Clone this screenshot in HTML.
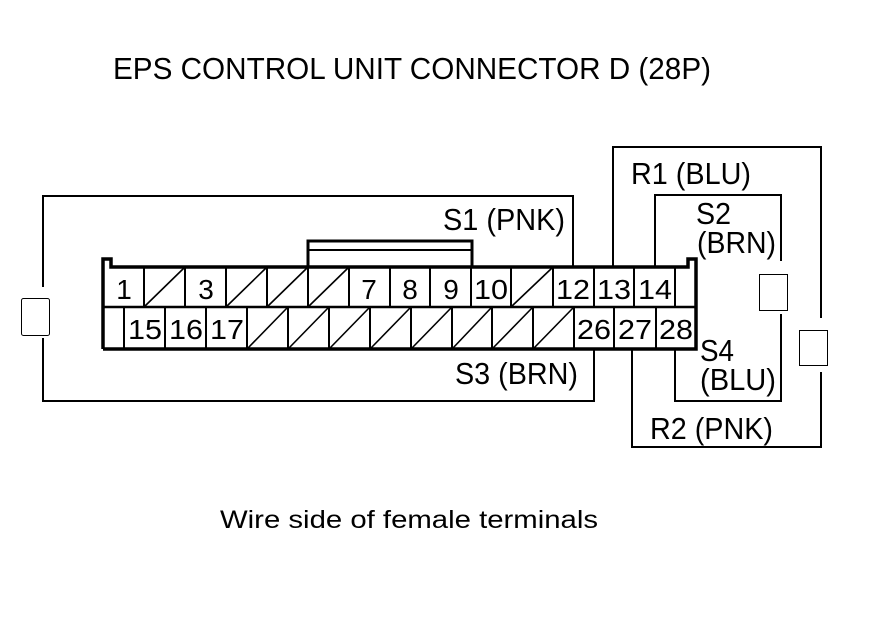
<!DOCTYPE html>
<html><head><meta charset="utf-8"><style>html,body{margin:0;padding:0;background:#fff}svg{display:block}</style></head>
<body>
<svg width="880" height="630" viewBox="0 0 880 630" xmlns="http://www.w3.org/2000/svg" font-family="Liberation Sans, Arial, sans-serif" fill="#000">
<rect width="880" height="630" fill="#fff"/>
<text x="113" y="79" font-size="31" textLength="598" lengthAdjust="spacingAndGlyphs">EPS CONTROL UNIT CONNECTOR D (28P)</text>
<text x="220" y="528" font-size="25" textLength="378" lengthAdjust="spacingAndGlyphs">Wire side of female terminals</text>

<g stroke="#000" stroke-width="2" fill="none">
  <polyline points="43,287 43,196 573,196 573,267"/>
  <polyline points="43,338 43,401 594,401 594,349"/>
  <polyline points="613,267 613,147 821,147 821,318"/>
  <polyline points="821,372 821,447 632,447 632,349"/>
  <polyline points="655,267 655,195 781,195 781,261"/>
  <polyline points="781,314 781,401 675,401 675,349"/>
</g>
<g stroke="#000" stroke-width="1" fill="#fff">
  <rect x="21.5" y="298.5" width="28" height="37" rx="2"/>
  <rect x="759.5" y="274.5" width="28" height="36"/>
  <rect x="799.5" y="330.5" width="28" height="35"/>
</g>

<g stroke="#000" fill="none">
  <polyline points="308,267 308,241 472,241 472,267" stroke-width="3"/>
  <line x1="308" y1="250" x2="472" y2="250" stroke-width="2"/>
</g>
<g stroke="#000" fill="none">
  <polyline points="103,349 103,259 111,259 111,267 688,267 688,259 696,259 696,349 103,349" stroke-width="3.5" stroke-linejoin="miter"/>
  <line x1="103" y1="307" x2="696" y2="307" stroke-width="2.5"/>
  <g stroke-width="2">
    <line x1="144" y1="267" x2="144" y2="307"/><line x1="185" y1="267" x2="185" y2="307"/>
    <line x1="226" y1="267" x2="226" y2="307"/><line x1="267" y1="267" x2="267" y2="307"/>
    <line x1="308" y1="267" x2="308" y2="307"/><line x1="349" y1="267" x2="349" y2="307"/>
    <line x1="390" y1="267" x2="390" y2="307"/><line x1="430" y1="267" x2="430" y2="307"/>
    <line x1="471" y1="267" x2="471" y2="307"/><line x1="511" y1="267" x2="511" y2="307"/>
    <line x1="553" y1="267" x2="553" y2="307"/><line x1="594" y1="267" x2="594" y2="307"/>
    <line x1="634" y1="267" x2="634" y2="307"/><line x1="675" y1="267" x2="675" y2="307"/>
    <line x1="124" y1="307" x2="124" y2="349"/><line x1="165" y1="307" x2="165" y2="349"/>
    <line x1="206" y1="307" x2="206" y2="349"/><line x1="247" y1="307" x2="247" y2="349"/>
    <line x1="288" y1="307" x2="288" y2="349"/><line x1="329" y1="307" x2="329" y2="349"/>
    <line x1="370" y1="307" x2="370" y2="349"/><line x1="411" y1="307" x2="411" y2="349"/>
    <line x1="452" y1="307" x2="452" y2="349"/><line x1="492" y1="307" x2="492" y2="349"/>
    <line x1="533" y1="307" x2="533" y2="349"/><line x1="574" y1="307" x2="574" y2="349"/>
    <line x1="614" y1="307" x2="614" y2="349"/><line x1="656" y1="307" x2="656" y2="349"/>
  </g>
  <g stroke-width="1.6">
    <line x1="145" y1="306" x2="184" y2="268"/>
    <line x1="227" y1="306" x2="266" y2="268"/>
    <line x1="268" y1="306" x2="307" y2="268"/>
    <line x1="309" y1="306" x2="348" y2="268"/>
    <line x1="512" y1="306" x2="552" y2="268"/>
    <line x1="248" y1="348" x2="287" y2="308"/>
    <line x1="289" y1="348" x2="328" y2="308"/>
    <line x1="330" y1="348" x2="369" y2="308"/>
    <line x1="371" y1="348" x2="410" y2="308"/>
    <line x1="412" y1="348" x2="451" y2="308"/>
    <line x1="453" y1="348" x2="491" y2="308"/>
    <line x1="493" y1="348" x2="532" y2="308"/>
    <line x1="534" y1="348" x2="573" y2="308"/>
  </g>
</g>
<g font-size="28" text-anchor="middle">
  <text x="124" y="299">1</text><text x="206" y="299">3</text>
  <text x="369" y="299">7</text><text x="410" y="299">8</text>
  <text x="451" y="299">9</text><text x="491" y="299" textLength="34" lengthAdjust="spacingAndGlyphs">10</text>
  <text x="573" y="299" textLength="34" lengthAdjust="spacingAndGlyphs">12</text><text x="614" y="299" textLength="34" lengthAdjust="spacingAndGlyphs">13</text><text x="655" y="299" textLength="34" lengthAdjust="spacingAndGlyphs">14</text>
  <text x="145" y="339" textLength="34" lengthAdjust="spacingAndGlyphs">15</text><text x="186" y="339" textLength="34" lengthAdjust="spacingAndGlyphs">16</text><text x="227" y="339" textLength="34" lengthAdjust="spacingAndGlyphs">17</text>
  <text x="594" y="339" textLength="34" lengthAdjust="spacingAndGlyphs">26</text><text x="635" y="339" textLength="34" lengthAdjust="spacingAndGlyphs">27</text><text x="676" y="339" textLength="34" lengthAdjust="spacingAndGlyphs">28</text>
</g>
<g font-size="31">
  <text x="443" y="230" textLength="122" lengthAdjust="spacingAndGlyphs">S1 (PNK)</text>
  <text x="631" y="184" textLength="120" lengthAdjust="spacingAndGlyphs">R1 (BLU)</text>
  <text x="696" y="224" textLength="35" lengthAdjust="spacingAndGlyphs">S2</text>
  <text x="697" y="253" textLength="79" lengthAdjust="spacingAndGlyphs">(BRN)</text>
  <text x="700" y="361" textLength="34" lengthAdjust="spacingAndGlyphs">S4</text>
  <text x="700" y="390" textLength="76" lengthAdjust="spacingAndGlyphs">(BLU)</text>
  <text x="455" y="384" textLength="123" lengthAdjust="spacingAndGlyphs">S3 (BRN)</text>
  <text x="650" y="439" textLength="123" lengthAdjust="spacingAndGlyphs">R2 (PNK)</text>
</g>
</svg>
</body></html>
